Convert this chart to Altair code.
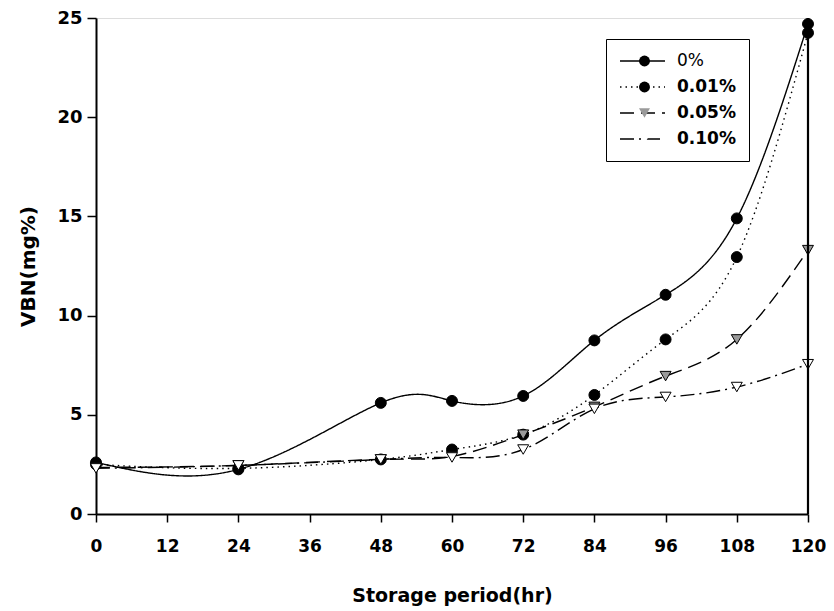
import altair as alt
import pandas as pd

hours = [0, 24, 48, 60, 72, 84, 96, 108, 120]
series_names = ["0%", "0.01%", "0.05%", "0.10%"]
v_0 = [2.6, 2.25, 5.6, 5.7, 5.95, 8.75, 11.05, 14.9, 24.7]
v_001 = [2.5, 2.3, 2.75, 3.25, 4.0, 6.0, 8.8, 12.95, 24.25]
v_005 = [2.35, 2.45, 2.75, 2.9, 4.0, 5.4, 6.95, 8.8, 13.3]
v_010 = [2.3, 2.45, 2.75, 2.85, 3.25, 5.3, 5.9, 6.4, 7.55]
x_ticks = [0, 12, 24, 36, 48, 60, 72, 84, 96, 108, 120]
y_ticks = [0, 5, 10, 15, 20, 25]

dashes = [[1, 0], [1.5, 4], [14, 7], [14, 5, 2, 5]]
shapes = ["circle", "circle", "triangle-down", "triangle-down"]
fills = ["black", "black", "#9a9a9a", "white"]

rows = []
for name, vals in zip(series_names, [v_0, v_001, v_005, v_010]):
    for h, v in zip(hours, vals):
        rows.append({"hour": h, "vbn": v, "series": name, "marker": name})
df = pd.DataFrame(rows)

FONT = "DejaVu Sans"

x_enc = alt.X("hour:Q", scale=alt.Scale(domain=[0, 120], nice=False),
              axis=alt.Axis(values=x_ticks, title="Storage period(hr)", grid=False,
                            tickSize=8, tickWidth=1.5, tickColor="black",
                            domainColor="black", domainWidth=2, labelFlush=False,
                            labelFont=FONT, labelFontSize=17, labelFontWeight="bold",
                            labelColor="black", labelPadding=16,
                            titleFont=FONT, titleFontSize=19, titleFontWeight="bold",
                            titleColor="black", titlePadding=32))
y_enc = alt.Y("vbn:Q", scale=alt.Scale(domain=[0, 25], nice=False),
              axis=alt.Axis(values=y_ticks, title="VBN(mg%)", grid=False,
                            tickSize=9, tickWidth=1.5, tickColor="black",
                            domainColor="black", domainWidth=2, labelFlush=False,
                            labelFont=FONT, labelFontSize=18, labelFontWeight="bold",
                            labelColor="black", labelPadding=5,
                            titleFont=FONT, titleFontSize=20, titleFontWeight="bold",
                            titleColor="black", titlePadding=18))

LX, LY = 510, 21
CLIP = 18

lines = alt.Chart(df).mark_line(interpolate="natural", color="black", strokeWidth=1.4).encode(
    x=x_enc, y=y_enc,
    strokeDash=alt.StrokeDash("series:N",
        scale=alt.Scale(domain=series_names, range=dashes),
        legend=alt.Legend(orient="none", legendX=LX, legendY=LY, title=None,
                          symbolType="stroke", symbolSize=2025, symbolStrokeWidth=1.4,
                          symbolStrokeColor="black", labelFont=FONT, labelFontSize=17,
                          labelFontWeight=alt.ExprRef("datum.label == '0%' ? 'normal' : 'bold'"),
                          labelColor="black", labelOffset=11,
                          rowPadding=8, padding=13, strokeColor="black", clipHeight=CLIP,
                          fillColor="white", labelLimit=200)),
)

points = alt.Chart(df).mark_point(filled=True, stroke="black", strokeWidth=1, size=120, opacity=1).encode(
    x="hour:Q", y="vbn:Q",
    shape=alt.Shape("marker:N", scale=alt.Scale(range=shapes),
        legend=alt.Legend(orient="none", legendX=LX, legendY=LY, title=None,
                          symbolSize=120, symbolStrokeColor="black", symbolStrokeWidth=1,
                          symbolOffset=17, labelFont=FONT, labelFontSize=17,
                          labelExpr="''", labelOpacity=0, labelOffset=11,
                          rowPadding=8, padding=13, labelLimit=200, clipHeight=CLIP)),
    fill=alt.Fill("marker:N", scale=alt.Scale(range=fills)),
)

right_rule = alt.Chart(pd.DataFrame({"hour": [120]})).mark_rule(color="black", strokeWidth=2.2).encode(
    x="hour:Q"
)

chart = alt.layer(lines, points, right_rule).properties(
    width=712, height=496,
    autosize=alt.AutoSizeParams(type="none"),
    padding={"left": 88, "top": 10, "right": 18, "bottom": 104},
).configure_view(stroke="#444", strokeWidth=1).configure(background="white")

chart.save("out.html", embed_options={"renderer": "svg", "actions": False})
